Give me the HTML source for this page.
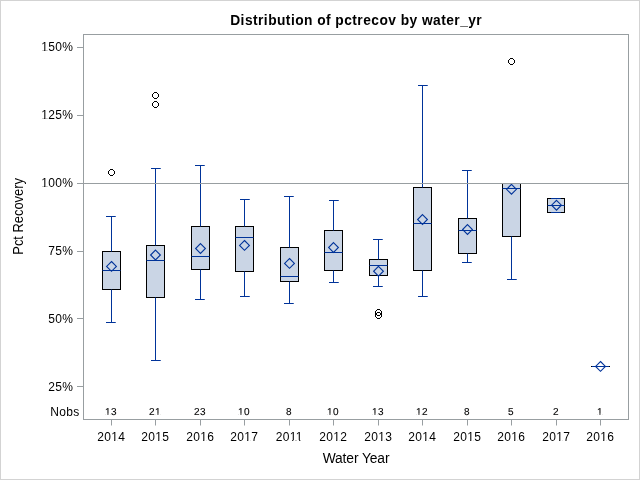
<!DOCTYPE html><html><head><meta charset="utf-8"><style>html,body{margin:0;padding:0;background:#fff;overflow:hidden;}svg{display:block;will-change:transform;}text{font-family:"Liberation Sans",sans-serif;fill:#000;}.gp{text-rendering:geometricPrecision;stroke:#000;stroke-width:0.12px;}</style></head><body>
<svg width="640" height="480" viewBox="0 0 640 480">
<rect x="0" y="0" width="640" height="480" fill="#fff"/>
<rect x="0.5" y="0.5" width="639" height="479" fill="none" stroke="#d3d3d3" stroke-width="1"/>
<text transform="translate(356.2,24.6) scale(0.94,1)" x="0" y="0" text-anchor="middle" font-size="14.67" font-weight="bold" letter-spacing="0.48">Distribution of pctrecov by water_yr</text>
<line x1="77" y1="47.5" x2="83" y2="47.5" stroke="#989ea1" stroke-width="1"/>
<text x="73.2" y="51.3" text-anchor="end" font-size="12" letter-spacing="0.33">150%</text>
<line x1="77" y1="115.5" x2="83" y2="115.5" stroke="#989ea1" stroke-width="1"/>
<text x="73.2" y="119.3" text-anchor="end" font-size="12" letter-spacing="0.33">125%</text>
<line x1="77" y1="183.5" x2="83" y2="183.5" stroke="#989ea1" stroke-width="1"/>
<text x="73.2" y="187.3" text-anchor="end" font-size="12" letter-spacing="0.33">100%</text>
<line x1="77" y1="251.5" x2="83" y2="251.5" stroke="#989ea1" stroke-width="1"/>
<text x="73.2" y="255.3" text-anchor="end" font-size="12" letter-spacing="0.33">75%</text>
<line x1="77" y1="318.5" x2="83" y2="318.5" stroke="#989ea1" stroke-width="1"/>
<text x="73.2" y="323.3" text-anchor="end" font-size="12" letter-spacing="0.33">50%</text>
<line x1="77" y1="386.5" x2="83" y2="386.5" stroke="#989ea1" stroke-width="1"/>
<text x="73.2" y="391.3" text-anchor="end" font-size="12" letter-spacing="0.33">25%</text>
<text transform="translate(23,216.4) rotate(-90) scale(0.935,1)" text-anchor="middle" font-size="13.8">Pct Recovery</text>
<rect x="102.5" y="251.5" width="18" height="38" fill="#cad5e5" stroke="#000" stroke-width="1"/>
<line x1="111.5" y1="216.5" x2="111.5" y2="251.5" stroke="#003399" stroke-width="1"/>
<line x1="111.5" y1="289.5" x2="111.5" y2="322.5" stroke="#003399" stroke-width="1"/>
<line x1="106" y1="216.5" x2="115.75" y2="216.5" stroke="#003399" stroke-width="1"/>
<line x1="106" y1="322.5" x2="115.75" y2="322.5" stroke="#003399" stroke-width="1"/>
<line x1="102.5" y1="270.5" x2="120.5" y2="270.5" stroke="#003399" stroke-width="1"/>
<path d="M111.5 261.5 L116.4 266.4 L111.5 271.29999999999995 L106.6 266.4 Z" fill="none" stroke="#003399" stroke-width="1.1"/>
<rect x="146.5" y="245.5" width="18" height="52" fill="#cad5e5" stroke="#000" stroke-width="1"/>
<line x1="155.5" y1="168.5" x2="155.5" y2="245.5" stroke="#003399" stroke-width="1"/>
<line x1="155.5" y1="297.5" x2="155.5" y2="360.5" stroke="#003399" stroke-width="1"/>
<line x1="151" y1="168.5" x2="160.75" y2="168.5" stroke="#003399" stroke-width="1"/>
<line x1="151" y1="360.5" x2="160.75" y2="360.5" stroke="#003399" stroke-width="1"/>
<line x1="146.5" y1="260.5" x2="164.5" y2="260.5" stroke="#003399" stroke-width="1"/>
<path d="M155.5 250.1 L160.4 255.0 L155.5 259.9 L150.6 255.0 Z" fill="none" stroke="#003399" stroke-width="1.1"/>
<rect x="191.5" y="226.5" width="18" height="43" fill="#cad5e5" stroke="#000" stroke-width="1"/>
<line x1="200.5" y1="165.5" x2="200.5" y2="226.5" stroke="#003399" stroke-width="1"/>
<line x1="200.5" y1="269.5" x2="200.5" y2="299.5" stroke="#003399" stroke-width="1"/>
<line x1="195" y1="165.5" x2="204.75" y2="165.5" stroke="#003399" stroke-width="1"/>
<line x1="195" y1="299.5" x2="204.75" y2="299.5" stroke="#003399" stroke-width="1"/>
<line x1="191.5" y1="256.5" x2="209.5" y2="256.5" stroke="#003399" stroke-width="1"/>
<path d="M200.5 243.6 L205.4 248.5 L200.5 253.4 L195.6 248.5 Z" fill="none" stroke="#003399" stroke-width="1.1"/>
<rect x="235.5" y="226.5" width="18" height="45" fill="#cad5e5" stroke="#000" stroke-width="1"/>
<line x1="244.5" y1="199.5" x2="244.5" y2="226.5" stroke="#003399" stroke-width="1"/>
<line x1="244.5" y1="271.5" x2="244.5" y2="296.5" stroke="#003399" stroke-width="1"/>
<line x1="240" y1="199.5" x2="249.75" y2="199.5" stroke="#003399" stroke-width="1"/>
<line x1="240" y1="296.5" x2="249.75" y2="296.5" stroke="#003399" stroke-width="1"/>
<line x1="235.5" y1="237.5" x2="253.5" y2="237.5" stroke="#003399" stroke-width="1"/>
<path d="M244.5 240.5 L249.4 245.4 L244.5 250.3 L239.6 245.4 Z" fill="none" stroke="#003399" stroke-width="1.1"/>
<rect x="280.5" y="247.5" width="18" height="34" fill="#cad5e5" stroke="#000" stroke-width="1"/>
<line x1="289.5" y1="196.5" x2="289.5" y2="247.5" stroke="#003399" stroke-width="1"/>
<line x1="289.5" y1="281.5" x2="289.5" y2="303.5" stroke="#003399" stroke-width="1"/>
<line x1="284" y1="196.5" x2="293.75" y2="196.5" stroke="#003399" stroke-width="1"/>
<line x1="284" y1="303.5" x2="293.75" y2="303.5" stroke="#003399" stroke-width="1"/>
<line x1="280.5" y1="276.5" x2="298.5" y2="276.5" stroke="#003399" stroke-width="1"/>
<path d="M289.5 258.5 L294.4 263.4 L289.5 268.29999999999995 L284.6 263.4 Z" fill="none" stroke="#003399" stroke-width="1.1"/>
<rect x="324.5" y="230.5" width="18" height="40" fill="#cad5e5" stroke="#000" stroke-width="1"/>
<line x1="333.5" y1="200.5" x2="333.5" y2="230.5" stroke="#003399" stroke-width="1"/>
<line x1="333.5" y1="270.5" x2="333.5" y2="282.5" stroke="#003399" stroke-width="1"/>
<line x1="329" y1="200.5" x2="338.75" y2="200.5" stroke="#003399" stroke-width="1"/>
<line x1="329" y1="282.5" x2="338.75" y2="282.5" stroke="#003399" stroke-width="1"/>
<line x1="324.5" y1="252.5" x2="342.5" y2="252.5" stroke="#003399" stroke-width="1"/>
<path d="M333.5 242.6 L338.4 247.5 L333.5 252.4 L328.6 247.5 Z" fill="none" stroke="#003399" stroke-width="1.1"/>
<rect x="369.5" y="259.5" width="18" height="16" fill="#cad5e5" stroke="#000" stroke-width="1"/>
<line x1="378.5" y1="239.5" x2="378.5" y2="259.5" stroke="#003399" stroke-width="1"/>
<line x1="378.5" y1="275.5" x2="378.5" y2="286.5" stroke="#003399" stroke-width="1"/>
<line x1="373" y1="239.5" x2="382.75" y2="239.5" stroke="#003399" stroke-width="1"/>
<line x1="373" y1="286.5" x2="382.75" y2="286.5" stroke="#003399" stroke-width="1"/>
<line x1="369.5" y1="265.5" x2="387.5" y2="265.5" stroke="#003399" stroke-width="1"/>
<path d="M378.5 266.35 L383.4 271.25 L378.5 276.15 L373.6 271.25 Z" fill="none" stroke="#003399" stroke-width="1.1"/>
<rect x="413.5" y="187.5" width="18" height="83" fill="#cad5e5" stroke="#000" stroke-width="1"/>
<line x1="422.5" y1="85.5" x2="422.5" y2="187.5" stroke="#003399" stroke-width="1"/>
<line x1="422.5" y1="270.5" x2="422.5" y2="296.5" stroke="#003399" stroke-width="1"/>
<line x1="418" y1="85.5" x2="427.75" y2="85.5" stroke="#003399" stroke-width="1"/>
<line x1="418" y1="296.5" x2="427.75" y2="296.5" stroke="#003399" stroke-width="1"/>
<line x1="413.5" y1="223.5" x2="431.5" y2="223.5" stroke="#003399" stroke-width="1"/>
<path d="M422.5 214.6 L427.4 219.5 L422.5 224.4 L417.6 219.5 Z" fill="none" stroke="#003399" stroke-width="1.1"/>
<rect x="458.5" y="218.5" width="18" height="35" fill="#cad5e5" stroke="#000" stroke-width="1"/>
<line x1="467.5" y1="170.5" x2="467.5" y2="218.5" stroke="#003399" stroke-width="1"/>
<line x1="467.5" y1="253.5" x2="467.5" y2="262.5" stroke="#003399" stroke-width="1"/>
<line x1="462" y1="170.5" x2="471.75" y2="170.5" stroke="#003399" stroke-width="1"/>
<line x1="462" y1="262.5" x2="471.75" y2="262.5" stroke="#003399" stroke-width="1"/>
<line x1="458.5" y1="230.5" x2="476.5" y2="230.5" stroke="#003399" stroke-width="1"/>
<path d="M467.5 224.6 L472.4 229.5 L467.5 234.4 L462.6 229.5 Z" fill="none" stroke="#003399" stroke-width="1.1"/>
<rect x="502.5" y="183.5" width="18" height="53" fill="#cad5e5" stroke="#000" stroke-width="1"/>
<line x1="511.5" y1="236.5" x2="511.5" y2="279.5" stroke="#003399" stroke-width="1"/>
<line x1="507" y1="183.5" x2="516.75" y2="183.5" stroke="#003399" stroke-width="1"/>
<line x1="507" y1="279.5" x2="516.75" y2="279.5" stroke="#003399" stroke-width="1"/>
<line x1="502.5" y1="188.5" x2="520.5" y2="188.5" stroke="#003399" stroke-width="1"/>
<path d="M511.5 184.4 L516.4 189.3 L511.5 194.20000000000002 L506.6 189.3 Z" fill="none" stroke="#003399" stroke-width="1.1"/>
<rect x="547.5" y="198.5" width="17" height="14" fill="#cad5e5" stroke="#000" stroke-width="1"/>
<line x1="551" y1="198.5" x2="560.75" y2="198.5" stroke="#003399" stroke-width="1"/>
<line x1="551" y1="212.5" x2="560.75" y2="212.5" stroke="#003399" stroke-width="1"/>
<line x1="547.5" y1="205.5" x2="564.5" y2="205.5" stroke="#003399" stroke-width="1"/>
<path d="M556.5 200.29999999999998 L561.4 205.2 L556.5 210.1 L551.6 205.2 Z" fill="none" stroke="#003399" stroke-width="1.1"/>
<rect x="591" y="366" width="1" height="1" fill="#000"/><rect x="609" y="366" width="1" height="1" fill="#000"/>
<line x1="596" y1="366.5" x2="605.75" y2="366.5" stroke="#003399" stroke-width="1"/>
<line x1="596" y1="366.5" x2="605.75" y2="366.5" stroke="#003399" stroke-width="1"/>
<line x1="592" y1="366.5" x2="609" y2="366.5" stroke="#003399" stroke-width="1"/>
<path d="M600.5 361.5 L605.4 366.4 L600.5 371.29999999999995 L595.6 366.4 Z" fill="none" stroke="#003399" stroke-width="1.1"/>
<path d="M110 169h3v1h-3zM110 175h3v1h-3zM108 171h1v3h-1zM114 171h1v3h-1zM109 170h1v1h-1zM113 170h1v1h-1zM109 174h1v1h-1zM113 174h1v1h-1zM154 92h3v1h-3zM154 98h3v1h-3zM152 94h1v3h-1zM158 94h1v3h-1zM153 93h1v1h-1zM157 93h1v1h-1zM153 97h1v1h-1zM157 97h1v1h-1zM154 101h3v1h-3zM154 107h3v1h-3zM152 103h1v3h-1zM158 103h1v3h-1zM153 102h1v1h-1zM157 102h1v1h-1zM153 106h1v1h-1zM157 106h1v1h-1zM377 309h3v1h-3zM377 315h3v1h-3zM375 311h1v3h-1zM381 311h1v3h-1zM376 310h1v1h-1zM380 310h1v1h-1zM376 314h1v1h-1zM380 314h1v1h-1zM377 312h3v1h-3zM377 318h3v1h-3zM375 314h1v3h-1zM381 314h1v3h-1zM376 313h1v1h-1zM380 313h1v1h-1zM376 317h1v1h-1zM380 317h1v1h-1zM510 58h3v1h-3zM510 64h3v1h-3zM508 60h1v3h-1zM514 60h1v3h-1zM509 59h1v1h-1zM513 59h1v1h-1zM509 63h1v1h-1zM513 63h1v1h-1z" fill="#000"/>
<line x1="84" y1="183.5" x2="628" y2="183.5" stroke="#989ea1" stroke-width="1"/>
<rect x="83.5" y="34.5" width="545" height="385" fill="none" stroke="#989ea1" stroke-width="1"/>
<line x1="111.5" y1="420" x2="111.5" y2="425.5" stroke="#989ea1" stroke-width="1"/>
<text x="111.2" y="441.2" text-anchor="middle" font-size="12" letter-spacing="0.33">2014</text>
<text x="111.0" y="414.9" class="gp" text-anchor="middle" font-size="10" letter-spacing="0.44">13</text>
<line x1="155.5" y1="420" x2="155.5" y2="425.5" stroke="#989ea1" stroke-width="1"/>
<text x="155.2" y="441.2" text-anchor="middle" font-size="12" letter-spacing="0.33">2015</text>
<text x="155.0" y="414.9" class="gp" text-anchor="middle" font-size="10" letter-spacing="0.44">21</text>
<line x1="200.5" y1="420" x2="200.5" y2="425.5" stroke="#989ea1" stroke-width="1"/>
<text x="200.2" y="441.2" text-anchor="middle" font-size="12" letter-spacing="0.33">2016</text>
<text x="200.0" y="414.9" class="gp" text-anchor="middle" font-size="10" letter-spacing="0.44">23</text>
<line x1="244.5" y1="420" x2="244.5" y2="425.5" stroke="#989ea1" stroke-width="1"/>
<text x="244.2" y="441.2" text-anchor="middle" font-size="12" letter-spacing="0.33">2017</text>
<text x="244.0" y="414.9" class="gp" text-anchor="middle" font-size="10" letter-spacing="0.44">10</text>
<line x1="289.5" y1="420" x2="289.5" y2="425.5" stroke="#989ea1" stroke-width="1"/>
<text x="289.2" y="441.2" text-anchor="middle" font-size="12" letter-spacing="0.33">2011</text>
<text x="289.0" y="414.9" class="gp" text-anchor="middle" font-size="10" letter-spacing="0.44">8</text>
<line x1="333.5" y1="420" x2="333.5" y2="425.5" stroke="#989ea1" stroke-width="1"/>
<text x="333.2" y="441.2" text-anchor="middle" font-size="12" letter-spacing="0.33">2012</text>
<text x="333.0" y="414.9" class="gp" text-anchor="middle" font-size="10" letter-spacing="0.44">10</text>
<line x1="378.5" y1="420" x2="378.5" y2="425.5" stroke="#989ea1" stroke-width="1"/>
<text x="378.2" y="441.2" text-anchor="middle" font-size="12" letter-spacing="0.33">2013</text>
<text x="378.0" y="414.9" class="gp" text-anchor="middle" font-size="10" letter-spacing="0.44">13</text>
<line x1="422.5" y1="420" x2="422.5" y2="425.5" stroke="#989ea1" stroke-width="1"/>
<text x="422.2" y="441.2" text-anchor="middle" font-size="12" letter-spacing="0.33">2014</text>
<text x="422.0" y="414.9" class="gp" text-anchor="middle" font-size="10" letter-spacing="0.44">12</text>
<line x1="467.5" y1="420" x2="467.5" y2="425.5" stroke="#989ea1" stroke-width="1"/>
<text x="467.2" y="441.2" text-anchor="middle" font-size="12" letter-spacing="0.33">2015</text>
<text x="467.0" y="414.9" class="gp" text-anchor="middle" font-size="10" letter-spacing="0.44">8</text>
<line x1="511.5" y1="420" x2="511.5" y2="425.5" stroke="#989ea1" stroke-width="1"/>
<text x="511.2" y="441.2" text-anchor="middle" font-size="12" letter-spacing="0.33">2016</text>
<text x="511.0" y="414.9" class="gp" text-anchor="middle" font-size="10" letter-spacing="0.44">5</text>
<line x1="556.5" y1="420" x2="556.5" y2="425.5" stroke="#989ea1" stroke-width="1"/>
<text x="556.2" y="441.2" text-anchor="middle" font-size="12" letter-spacing="0.33">2017</text>
<text x="556.0" y="414.9" class="gp" text-anchor="middle" font-size="10" letter-spacing="0.44">2</text>
<line x1="600.5" y1="420" x2="600.5" y2="425.5" stroke="#989ea1" stroke-width="1"/>
<text x="600.2" y="441.2" text-anchor="middle" font-size="12" letter-spacing="0.33">2016</text>
<text x="600.0" y="414.9" class="gp" text-anchor="middle" font-size="10" letter-spacing="0.44">1</text>
<text x="79.6" y="415.6" text-anchor="end" font-size="12" letter-spacing="0.33">Nobs</text>
<text x="356" y="463" text-anchor="middle" font-size="13.8" letter-spacing="-0.1">Water Year</text>
<path d="M41.70 50.15H44.19V51.70H41.70ZM45.28 50.15H47.68V51.70H45.28ZM41.70 118.15H44.19V119.70H41.70ZM45.28 118.15H47.68V119.70H45.28ZM41.70 186.15H44.19V187.70H41.70ZM45.28 186.15H47.68V187.70H45.28ZM111.71 440.05H114.20V441.60H111.71ZM115.30 440.05H117.69V441.60H115.30ZM105.36 413.75H107.50V415.30H105.36ZM108.41 413.75H110.47V415.30H108.41ZM155.71 440.05H158.20V441.60H155.71ZM159.30 440.05H161.69V441.60H159.30ZM155.36 413.75H157.50V415.30H155.36ZM158.41 413.75H160.47V415.30H158.41ZM200.71 440.05H203.20V441.60H200.71ZM204.30 440.05H206.69V441.60H204.30ZM244.71 440.05H247.20V441.60H244.71ZM248.30 440.05H250.69V441.60H248.30ZM238.36 413.75H240.50V415.30H238.36ZM241.41 413.75H243.47V415.30H241.41ZM289.71 440.05H292.20V441.60H289.71ZM293.30 440.05H295.69V441.60H293.30ZM296.72 440.05H299.20V441.60H296.72ZM300.30 440.05H302.69V441.60H300.30ZM333.71 440.05H336.20V441.60H333.71ZM337.30 440.05H339.69V441.60H337.30ZM327.36 413.75H329.50V415.30H327.36ZM330.41 413.75H332.47V415.30H330.41ZM378.71 440.05H381.20V441.60H378.71ZM382.30 440.05H384.69V441.60H382.30ZM372.36 413.75H374.50V415.30H372.36ZM375.41 413.75H377.47V415.30H375.41ZM422.71 440.05H425.20V441.60H422.71ZM426.30 440.05H428.69V441.60H426.30ZM416.36 413.75H418.50V415.30H416.36ZM419.41 413.75H421.47V415.30H419.41ZM467.71 440.05H470.20V441.60H467.71ZM471.30 440.05H473.69V441.60H471.30ZM511.71 440.05H514.20V441.60H511.71ZM515.30 440.05H517.69V441.60H515.30ZM556.71 440.05H559.20V441.60H556.71ZM560.30 440.05H562.69V441.60H560.30ZM600.71 440.05H603.20V441.60H600.71ZM604.30 440.05H606.69V441.60H604.30ZM597.36 413.75H599.50V415.30H597.36ZM600.41 413.75H602.47V415.30H600.41Z" fill="#fff"/>
</svg></body></html>
